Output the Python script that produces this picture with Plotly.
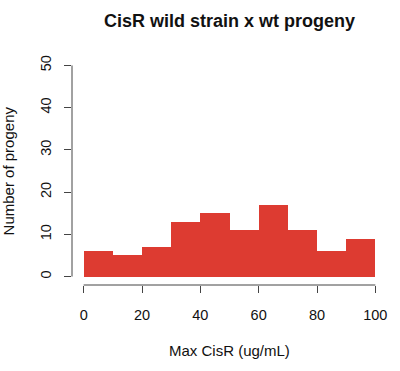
import plotly.graph_objects as go

bin_starts = [0, 10, 20, 30, 40, 50, 60, 70, 80, 90]
bin_width = 10
counts = [6, 5, 7, 13, 15, 11, 17, 11, 6, 9]
x_ticks = [0, 20, 40, 60, 80, 100]
y_ticks = [0, 10, 20, 30, 40, 50]

centers = [s + bin_width / 2 for s in bin_starts]

fig = go.Figure(go.Bar(
    x=centers, y=counts, width=[bin_width] * len(counts),
    marker=dict(color="#DD3B31", line=dict(width=0)),
))

axis_col = "#444"
fig.update_layout(
    width=400, height=371,
    margin=dict(l=72.4, r=13.4, t=56.5, b=85.8, autoexpand=False),
    paper_bgcolor="white", plot_bgcolor="white",
    font=dict(family="Liberation Sans, Arial, sans-serif", size=14.5, color="#111"),
    showlegend=False, bargap=0,
    title=dict(text="<b>CisR wild strain x wt progeny</b>", x=0.574, xanchor="center",
               y=1 - 21 / 371, yanchor="middle", font=dict(size=18, color="#111")),
    xaxis=dict(range=[-4, 104], tickvals=x_ticks, ticks="outside", ticklen=7,
               tickcolor=axis_col, tickwidth=1, showgrid=False, zeroline=False,
               showline=False, ticklabelstandoff=10),
    yaxis=dict(range=[-2, 52], tickvals=y_ticks, ticks="outside", ticklen=7,
               tickcolor=axis_col, tickwidth=1, showgrid=False, zeroline=False,
               showline=False, tickangle=-90, ticklabelstandoff=7),
    shapes=[
        dict(type="line", xref="x", yref="paper", x0=x_ticks[0], x1=x_ticks[-1], y0=0, y1=0,
             line=dict(color=axis_col, width=1)),
        dict(type="line", xref="paper", yref="y", x0=0, x1=0, y0=y_ticks[0], y1=y_ticks[-1],
             line=dict(color=axis_col, width=1)),
    ],
    annotations=[
        dict(text="Max CisR (ug/mL)", xref="paper", yref="paper", x=0.5, y=-0.288,
             xanchor="center", yanchor="middle", showarrow=False, font=dict(size=15)),
        dict(text="Number of progeny", xref="paper", yref="paper", x=-0.2018, y=0.5,
             xanchor="center", yanchor="middle", showarrow=False, textangle=-90,
             font=dict(size=15)),
    ],
)

fig.write_html("out.html", config={"displayModeBar": False},
               post_script="document.body.style.margin='0';")
